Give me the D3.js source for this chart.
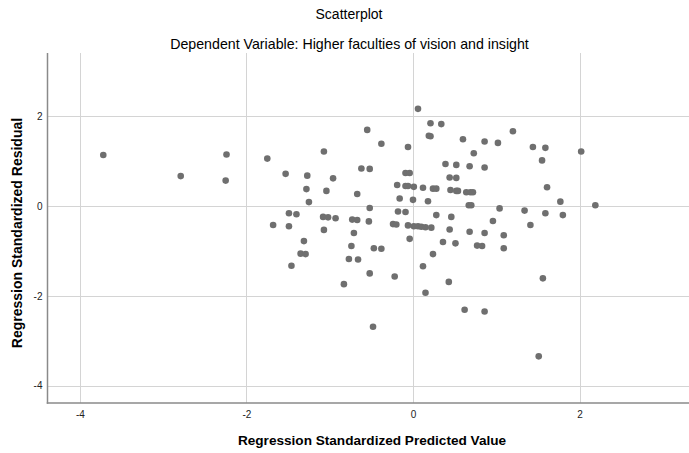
<!DOCTYPE html>
<html>
<head>
<meta charset="utf-8">
<script src="https://cdn.jsdelivr.net/npm/d3@7"></script>
<style>
  html, body { margin: 0; padding: 0; background: #fff; }
  svg { display: block; font-family: "Liberation Sans", Arial, sans-serif; }
</style>
</head>
<body>
<svg id="chart" width="689" height="453"></svg>
<script>
// Regression standardized predicted values (x) and residuals (y)
const predicted = [
  -3.72, -2.79, -2.24, -2.25, -1.75, -1.68, 0.06, 0.21, 0.34, 0.19,
  0.21, -0.55, -0.38, -0.06, 0.60, 0.73, -1.07, -1.53, -1.27, -0.96,
  -1.28, -1.04, -1.25, -0.67, -0.62, -0.52, 0.39, 0.52, 0.68, -0.09,
  -0.04, 0.44, 0.52, -0.19, -0.09, -0.06, 0.01, 0.12, 0.24, 0.28,
  0.45, 0.52, 0.54, 0.64, 0.69, 0.72, -0.16, 0.00, 0.18, 0.67,
  0.70, -0.52, -0.18, -0.09, -1.49, -1.40, -1.08, -1.02, -0.93, -0.73,
  -0.67, -0.53, 0.28, 0.46, -1.49, -1.07, -0.71, -0.24, -0.20, -0.06,
  0.01, 0.06, 0.10, 0.15, 0.22, 0.44, 0.68, -0.04, -1.31, -0.74,
  0.36, 0.51, 0.77, 0.83, -0.47, -0.38, -1.35, -1.29, 0.24, -0.77,
  -0.66, -1.46, 0.12, -0.52, -0.22, 0.43, -0.83, 0.15, 0.62, -0.48,
  1.20, 0.86, 1.02, 1.44, 1.59, 2.02, 1.55, 0.86, 1.61, 1.77,
  2.19, 1.04, 1.34, 1.59, 1.80, 0.96, 1.41, 0.86, 1.09, 1.09,
  1.56, 0.86, 1.51
];
const residual = [
  1.14, 0.67, 1.15, 0.57, 1.06, -0.42, 2.17, 1.85, 1.83, 1.57,
  1.56, 1.70, 1.39, 1.32, 1.49, 1.18, 1.22, 0.72, 0.68, 0.62,
  0.38, 0.34, 0.09, 0.27, 0.84, 0.83, 0.94, 0.92, 0.89, 0.74,
  0.74, 0.64, 0.63, 0.47, 0.45, 0.45, 0.43, 0.41, 0.39, 0.39,
  0.36, 0.34, 0.34, 0.31, 0.31, 0.31, 0.17, 0.14, 0.11, 0.02,
  0.02, -0.04, -0.12, -0.13, -0.16, -0.18, -0.24, -0.25, -0.27, -0.30,
  -0.31, -0.34, -0.20, -0.24, -0.45, -0.53, -0.60, -0.40, -0.41, -0.43,
  -0.45, -0.45, -0.46, -0.47, -0.48, -0.52, -0.57, -0.73, -0.78, -0.89,
  -0.80, -0.83, -0.88, -0.89, -0.94, -0.95, -1.06, -1.07, -1.07, -1.18,
  -1.19, -1.33, -1.34, -1.50, -1.57, -1.69, -1.74, -1.93, -2.31, -2.69,
  1.67, 1.44, 1.41, 1.32, 1.30, 1.22, 1.02, 0.86, 0.42, 0.10,
  0.02, -0.05, -0.10, -0.16, -0.20, -0.33, -0.42, -0.60, -0.65, -0.94,
  -1.61, -2.35, -3.35
];
const xTicks = [-4, -2, 0, 2];
const yTicks = [-4, -2, 0, 2];

const titleText = "Scatterplot";
const subtitleText = "Dependent Variable: Higher faculties of vision and insight";
const xTitle = "Regression Standardized Predicted Value";
const yTitle = "Regression Standardized Residual";

const svg = d3.select("#chart");
const plot = { left: 47.5, right: 689, top: 53, bottom: 403 };

const x = d3.scaleLinear().domain([-4.39, 3.315]).range([plot.left, plot.right]);
const y = d3.scaleLinear().domain([-4.39, 3.415]).range([plot.bottom, plot.top]);

// Tick labels use a plain hyphen for negatives
const tickFmt = d => String(d);

// Titles
svg.append("text").attr("x", 349).attr("y", 19).attr("text-anchor", "middle")
  .attr("font-size", 14).attr("fill", "#000").text(titleText);
svg.append("text").attr("x", 349.5).attr("y", 49).attr("text-anchor", "middle")
  .attr("font-size", 14.2).attr("fill", "#000").text(subtitleText);

// Grid lines
const grid = svg.append("g").attr("stroke", "#d4d4d4").attr("stroke-width", 1);
grid.selectAll(".gx").data(xTicks).join("line")
  .attr("x1", d => Math.round(x(d)) + 0.5).attr("x2", d => Math.round(x(d)) + 0.5)
  .attr("y1", plot.top).attr("y2", plot.bottom);
grid.selectAll(".gy").data(yTicks).join("line")
  .attr("y1", d => Math.round(y(d)) + 0.5).attr("y2", d => Math.round(y(d)) + 0.5)
  .attr("x1", plot.left).attr("x2", plot.right);

// Axes (labels only, no tick marks)
const xAxis = svg.append("g").attr("transform", `translate(0,${plot.bottom})`)
  .call(d3.axisBottom(x).tickValues(xTicks).tickSize(0).tickPadding(8).tickFormat(tickFmt));
xAxis.select(".domain").remove();
xAxis.selectAll("text").attr("font-size", 10).attr("fill", "#222")
  .attr("font-family", "Liberation Sans, Arial, sans-serif");

const yAxis = svg.append("g").attr("transform", `translate(${plot.left},0)`)
  .call(d3.axisLeft(y).tickValues(yTicks).tickSize(0).tickPadding(5).tickFormat(tickFmt));
yAxis.select(".domain").remove();
yAxis.selectAll("text").attr("font-size", 10).attr("fill", "#222")
  .attr("font-family", "Liberation Sans, Arial, sans-serif");

// Frame lines on the left and bottom
svg.append("line").attr("x1", plot.left).attr("x2", plot.left)
  .attr("y1", plot.top).attr("y2", plot.bottom + 0.75)
  .attr("stroke", "#8a8a8a").attr("stroke-width", 1.5);
svg.append("line").attr("x1", plot.left - 0.75).attr("x2", plot.right)
  .attr("y1", plot.bottom).attr("y2", plot.bottom)
  .attr("stroke", "#8a8a8a").attr("stroke-width", 1.5);

// Points
const pts = predicted.map((p, i) => ({ p, r: residual[i] }));
svg.append("g").selectAll("circle").data(pts).join("circle")
  .attr("cx", d => x(d.p)).attr("cy", d => y(d.r)).attr("r", 3.3)
  .attr("fill", "#6f6f6f");

// Axis titles
svg.append("text").attr("x", 372).attr("y", 445).attr("text-anchor", "middle")
  .attr("font-size", 13.6).attr("font-weight", "bold").attr("fill", "#000").text(xTitle);
svg.append("text").attr("transform", `translate(22,${(plot.top + plot.bottom) / 2 + 5}) rotate(-90)`)
  .attr("text-anchor", "middle")
  .attr("font-size", 14).attr("font-weight", "bold").attr("fill", "#000").text(yTitle);
</script>
</body>
</html>
